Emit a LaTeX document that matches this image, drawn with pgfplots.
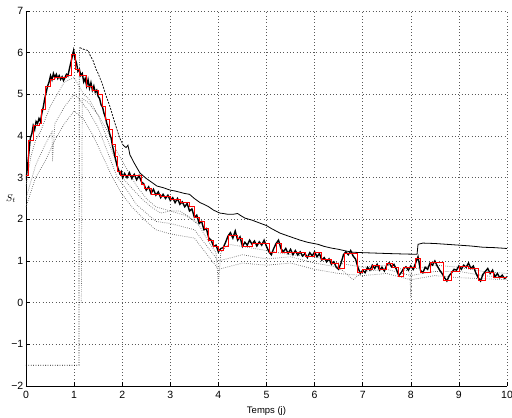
\documentclass[border=0pt]{standalone}
\usepackage{fontspec}
\setmainfont{Liberation Sans}
\usepackage{pgfplots}
\usepackage{pgfplotstable}
\pgfplotsset{compat=1.18}

\pgfplotstableread{
x y
0.00 2.95
0.03 3.25
0.06 3.6
0.09 3.95
0.12 4.05
0.15 4.25
0.18 4.15
0.21 4.35
0.24 4.3
0.27 4.42
0.30 4.35
0.33 4.55
0.36 4.7
0.39 4.9
0.42 5.05
0.45 5.2
0.48 5.3
0.51 5.45
0.54 5.35
0.57 5.5
0.60 5.4
0.63 5.48
0.66 5.38
0.69 5.45
0.72 5.36
0.75 5.42
0.78 5.33
0.81 5.4
0.84 5.48
0.87 5.44
0.90 5.6
0.93 5.75
0.96 5.9
0.99 6.05
1.02 5.85
1.05 5.75
1.08 5.55
1.11 5.6
1.14 5.45
1.17 5.5
1.20 5.3
1.23 5.38
1.26 5.2
1.29 5.35
1.32 5.15
1.35 5.28
1.38 5.1
1.41 5.2
1.44 5.05
1.47 5.1
1.50 4.95
1.53 4.9
1.56 4.75
1.59 4.7
1.62 4.55
1.65 4.45
1.68 4.3
1.71 4.2
1.74 4.05
1.77 3.95
1.80 3.75
1.83 3.6
1.86 3.45
1.89 3.3
1.92 3.2
1.95 3.1
1.98 3.15
2.01 3.0
2.05 3.1
2.10 3.0
2.15 3.12
2.20 2.98
2.25 3.08
2.30 2.95
2.35 3.05
2.40 2.9
2.45 2.85
2.50 2.7
2.55 2.78
2.60 2.62
2.65 2.72
2.70 2.58
2.75 2.66
2.80 2.52
2.85 2.6
2.90 2.5
2.95 2.58
3.00 2.45
3.05 2.52
3.10 2.4
3.15 2.5
3.20 2.36
3.25 2.42
3.30 2.3
3.35 2.38
3.40 2.2
3.45 2.25
3.50 2.05
3.55 2.1
3.60 1.9
3.65 1.95
3.70 1.75
3.75 1.78
3.80 1.55
3.85 1.5
3.90 1.35
3.95 1.38
4.00 1.22
4.05 1.3
4.10 1.32
4.15 1.45
4.20 1.6
4.25 1.68
4.30 1.55
4.35 1.72
4.40 1.5
4.45 1.58
4.50 1.35
4.55 1.45
4.60 1.38
4.65 1.5
4.70 1.4
4.75 1.48
4.80 1.36
4.85 1.46
4.90 1.38
4.95 1.5
5.00 1.35
5.05 1.22
5.10 1.15
5.15 1.3
5.20 1.42
5.25 1.5
5.30 1.3
5.35 1.22
5.40 1.3
5.45 1.18
5.50 1.28
5.55 1.15
5.60 1.25
5.65 1.14
5.70 1.22
5.75 1.12
5.80 1.18
5.85 1.08
5.90 1.2
5.95 1.12
6.00 1.22
6.05 1.1
6.10 1.18
6.15 1.02
6.20 1.08
6.25 0.98
6.30 1.05
6.35 0.92
6.40 0.98
6.45 0.85
6.50 0.8
6.55 0.95
6.60 1.15
6.65 1.22
6.70 1.15
6.75 1.25
6.80 1.12
6.85 1.05
6.90 0.85
6.95 0.7
7.00 0.78
7.05 0.72
7.10 0.85
7.15 0.78
7.20 0.9
7.25 0.82
7.30 0.92
7.35 0.78
7.40 0.85
7.45 0.76
7.50 0.9
7.55 0.96
7.60 0.86
7.65 0.92
7.70 0.8
7.75 0.65
7.80 0.72
7.85 0.82
7.90 0.86
7.95 0.78
8.00 0.88
8.05 0.8
8.10 0.95
8.15 1.1
8.20 0.78
8.25 0.72
8.30 0.85
8.35 0.8
8.40 0.95
8.45 0.9
8.50 1.0
8.55 0.88
8.60 0.78
8.65 0.7
8.70 0.6
8.75 0.52
8.80 0.65
8.85 0.72
8.90 0.8
8.95 0.78
9.00 0.88
9.05 0.8
9.10 0.9
9.15 0.85
9.20 0.95
9.25 0.82
9.30 0.88
9.35 0.72
9.40 0.6
9.45 0.52
9.50 0.68
9.55 0.75
9.60 0.82
9.65 0.7
9.70 0.78
9.75 0.62
9.80 0.7
9.85 0.6
9.90 0.66
9.95 0.58
10.00 0.62
}\truedata

\pgfplotstableread{
x y
0.00 3.05
0.06 3.9
0.16 4.25
0.28 4.3
0.32 4.65
0.40 5.2
0.50 5.35
0.60 5.4
0.85 5.45
0.94 5.95
1.02 5.6
1.12 5.45
1.25 5.2
1.38 5.1
1.50 5.0
1.58 4.7
1.66 4.4
1.73 4.15
1.79 3.8
1.85 3.5
1.91 3.15
1.97 3.05
2.40 2.85
2.47 2.75
2.60 2.6
2.80 2.55
3.00 2.48
3.20 2.4
3.40 2.3
3.50 2.05
3.60 1.95
3.70 1.78
3.80 1.5
3.90 1.35
4.00 1.25
4.10 1.35
4.20 1.62
4.40 1.55
4.50 1.35
4.70 1.43
5.05 1.2
5.20 1.43
5.30 1.2
5.80 1.12
6.00 1.2
6.15 1.05
6.35 0.95
6.50 0.83
6.62 1.19
6.88 0.72
7.00 0.8
7.20 0.9
7.35 0.8
7.50 0.95
7.62 0.85
7.75 0.62
7.85 0.85
8.10 1.07
8.20 0.73
8.40 0.97
8.68 0.54
8.85 0.75
9.00 0.86
9.20 0.83
9.40 0.54
9.55 0.73
9.72 0.6
10.00 0.6
}\estdata

\pgfplotstableread{
x y
2.02 3.78
2.08 3.72
2.12 3.78
2.16 3.55
2.25 3.35
2.37 3.11
2.50 2.98
2.60 2.9
2.72 2.8
2.85 2.76
3.00 2.7
3.10 2.68
3.20 2.65
3.30 2.62
3.40 2.6
3.50 2.5
3.62 2.4
3.70 2.36
3.80 2.3
3.90 2.22
4.03 2.15
4.10 2.14
4.20 2.12
4.30 2.12
4.40 2.14
4.45 2.1
4.55 2.03
4.70 1.98
4.86 1.91
5.00 1.85
5.10 1.78
5.28 1.67
5.40 1.62
5.55 1.56
5.70 1.5
5.85 1.45
6.07 1.4
6.20 1.35
6.35 1.31
6.50 1.28
6.65 1.24
6.80 1.21
7.00 1.2
7.25 1.19
7.50 1.18
7.80 1.17
8.13 1.16
8.15 1.4
8.25 1.43
8.50 1.42
8.75 1.4
9.00 1.38
9.25 1.36
9.50 1.33
9.75 1.32
10.00 1.3
}\upperdata

\begin{document}
\begin{tikzpicture}
\begin{axis}[
  scale only axis,
  width=481pt, height=375pt,
  xmin=0, xmax=10, ymin=-2, ymax=7,
  xtick={0,1,...,10}, ytick={-2,-1,...,7},
  yticklabels={−2,−1,0,1,2,3,4,5,6,7},
  /pgf/number format/assume math mode=true,
  axis x line*=bottom, axis y line*=left,
  axis line style={-, black, line width=0.7pt},
  tick align=inside,
  major tick length=4pt,
  tick style={black, line width=0.6pt},
  grid=major,
  grid style={black!65, line width=0.6pt, dash pattern=on 0.7pt off 2.6pt},
  tick label style={font=\fontsize{10.5}{11}\selectfont},
  xticklabel style={yshift=-1.5pt},
  yticklabel style={inner sep=1.5pt, xshift=-1pt},
  xlabel={Temps (j)},
  ylabel={$S_t$},
  xlabel style={font=\fontsize{9.5}{10}\selectfont, at={(rel axis cs:0.5,0)}, anchor=north, yshift=-17pt},
  ylabel style={rotate=-90, font=\fontsize{10}{11}\selectfont, at={(rel axis cs:0,0.5)}, anchor=center, xshift=-15pt},
  clip=true,
]
\coordinate (sw) at (rel axis cs:0,0);
\coordinate (ne) at (rel axis cs:1,1);
% lower quantile-like dotted curves (gray)
\addplot[black!60, line width=0.7pt, dash pattern=on 0.7pt off 1.4pt] coordinates {
(0,2.8) (0.1,3.5) (0.2,3.9) (0.3,4.1) (0.4,4.4) (0.5,4.7) (0.6,4.9) (0.7,5.1) (0.8,5.3) (0.9,5.35) (1.0,5.4) (1.1,5.2) (1.2,5.0) (1.3,4.9) (1.4,4.7) (1.5,4.5) (1.6,4.2) (1.7,3.9) (1.8,3.6) (1.9,3.3) (2.0,3.0) (2.2,2.75) (2.4,2.5) (2.6,2.3) (2.8,2.15) (3.0,2.2) (3.2,2.2) (3.4,2.05) (3.6,1.85) (3.8,1.45) (3.95,1.2) (4.0,0.45) (4.05,1.2) (4.2,1.4) (4.5,1.35) (5.0,1.25) (5.5,1.15) (6.0,1.1) (6.5,0.95) (7.0,0.85) (7.5,0.9) (7.98,0.75) (8.0,0.12) (8.02,0.8) (8.5,0.9) (9.0,0.85) (9.5,0.75) (10,0.7)};
\addplot[black!60, line width=0.7pt, dash pattern=on 0.7pt off 1.4pt] coordinates {
(0,2.5) (0.2,3.3) (0.4,3.8) (0.54,4.1) (0.55,3.4) (0.6,4.3) (0.8,4.7) (1.0,5.0) (1.1,4.9) (1.3,4.6) (1.5,4.2) (1.7,3.6) (1.9,3.0) (2.1,2.7) (2.3,2.35) (2.5,2.15) (2.7,1.95) (3.0,1.9) (3.5,1.75) (3.8,1.3) (4.0,1.0) (4.5,1.15) (5,1.05) (5.5,1.1) (6,0.95) (6.5,0.85) (6.8,0.55) (7,0.75) (7.5,0.8) (8,0.65) (8.5,0.75) (9,0.75) (9.5,0.65) (10,0.6)};
\addplot[black!60, line width=0.7pt, dash pattern=on 0.7pt off 1.4pt] coordinates {
(0,2.3) (0.2,3.0) (0.4,3.4) (0.6,3.9) (0.8,4.3) (1.0,4.6) (1.2,4.4) (1.4,4.0) (1.6,3.5) (1.8,3.0) (2.0,2.6) (2.2,2.3) (2.5,1.95) (2.7,1.75) (3.0,1.65) (3.5,1.55) (3.8,1.1) (4.0,0.8) (4.5,0.95) (5,0.9) (5.5,0.95) (6,0.8) (6.5,0.7) (7,0.65) (7.5,0.7) (8,0.55) (8.5,0.65) (9,0.6) (10,0.55)};
\addplot[black!60, line width=0.7pt, dash pattern=on 0.7pt off 1.4pt] coordinates {
(1.15,0.0) (1.17,4.9) (1.3,4.8) (1.5,4.5) (1.7,4.1) (1.9,3.6) (2.1,3.2) (2.3,2.8) (2.5,2.5) (2.7,2.3) (3.0,2.2) (3.3,2.1) (3.6,1.9)};
% upper curve with initial value -1.5
\addplot[black, line width=0.7pt, dash pattern=on 0.8pt off 1.6pt] coordinates {(0,-1.5) (1.1,-1.5) (1.11,6.12)};
\addplot[black, line width=0.7pt, dash pattern=on 2pt off 1.2pt] coordinates {(1.12,6.12) (1.20,6.08) (1.29,6.05) (1.34,5.92) (1.39,5.82) (1.45,5.62) (1.50,5.5) (1.58,5.27) (1.66,4.98) (1.75,4.69) (1.85,4.3) (1.95,3.95) (2.02,3.78)};
\addplot[black, line width=0.8pt] table[x=x,y=y] {\upperdata};
% true signal (noisy)
\addplot[black, line width=1.4pt] table[x=x,y=y] {\truedata};
% step estimate
\addplot[red, line width=0.8pt, const plot] table[x=x,y=y] {\estdata};
\end{axis}
\pgfresetboundingbox
\path[use as bounding box] ([shift={(-26pt,-32pt)}]sw) rectangle ([shift={(5pt,11pt)}]ne);
\end{tikzpicture}
\end{document}
